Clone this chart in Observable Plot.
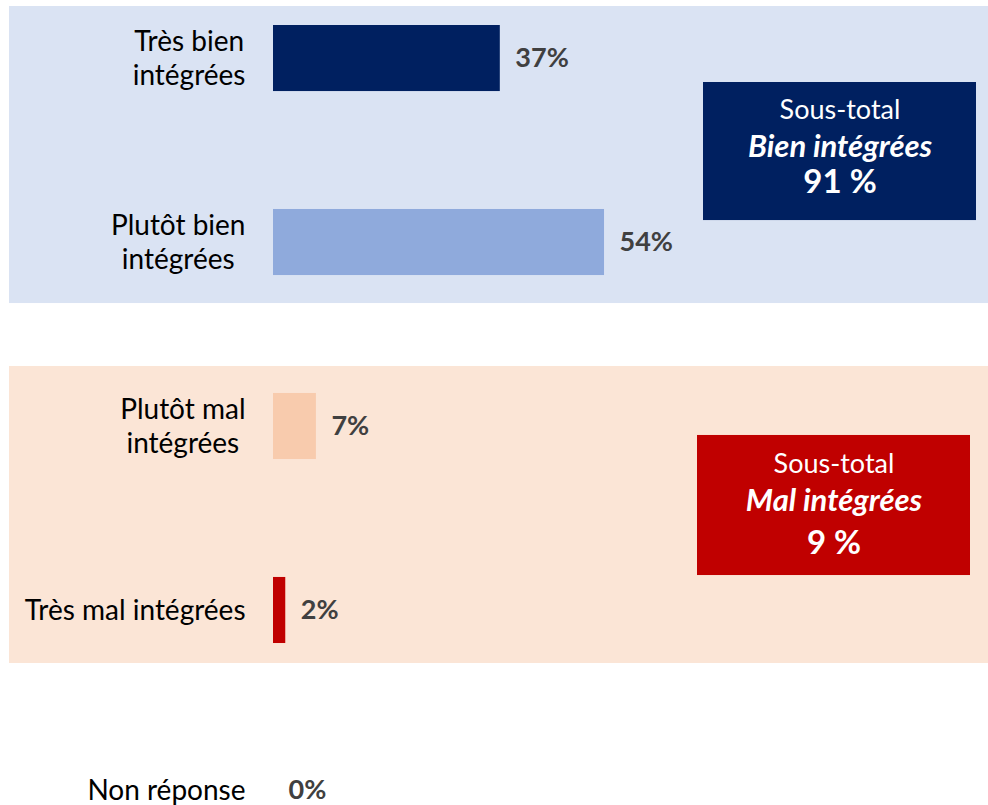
<!DOCTYPE html>
<html>
<head>
<meta charset="utf-8">
<script src="https://cdn.jsdelivr.net/npm/d3@7"></script>
<script src="https://cdn.jsdelivr.net/npm/@observablehq/plot@0.6"></script>
<style>
  html, body { margin: 0; padding: 0; background: #ffffff; }
  #chart svg { display: block; }
</style>
</head>
<body>
<div id="chart"></div>
<script>
// ---- Data ----
const categories = ["Très bien intégrées", "Plutôt bien intégrées", "Plutôt mal intégrées", "Très mal intégrées", "Non réponse"];
const categoryLabels = ["Très bien\nintégrées", "Plutôt bien\nintégrées", "Plutôt mal\nintégrées", "Très mal intégrées", "Non réponse"];
const values = [37, 54, 7, 2, 0];
const barColors = ["#002060", "#8FAADC", "#F8CBAD", "#C00000", "#C00000"];

const groupNames = ["Bien intégrées", "Mal intégrées"];
const groupMembers = [["Très bien intégrées", "Plutôt bien intégrées"], ["Plutôt mal intégrées", "Très mal intégrées"]];
const groupSubtotals = [91, 9];
const groupBoxColors = ["#002060", "#C00000"];
const groupBgColors = ["#DAE3F3", "#FBE5D6"];
const subtotalTitle = "Sous-total";

// ---- Build table ----
const rows = categories.map((c, i) => ({cat: c, value: values[i], color: barColors[i], label: categoryLabels[i]}));

const FONT = "Lato, 'Open Sans', 'DejaVu Sans', sans-serif";
const ctx = document.createElement("canvas").getContext("2d");
function maxLineWidth(str, size, weight = "normal") {
  ctx.font = `${weight} ${size}px Lato`;
  return Math.max(...str.split("\n").map(s => ctx.measureText(s).width));
}

// layout params (pixels)
const LABEL_SIZE = 28;
const labelGap = 28;
const bgPads = [[19, 28], [27, 20]];   // top / bottom padding of group background
const halfGap = 59;
const boxInsets = [
  {l: -183, r: -90, t: 57, b: -129, dx: -46.5, dys: [52, 88.5, 124]},
  {l: -189, r: -84, t: 42, b: -116, dx: -52.5, dys: [38, 75, 117]}
];

const marks = [];

// group backgrounds
groupMembers.forEach((mem, g) => {
  marks.push(Plot.barX([mem[0]], {
    y: d => d, x1: () => 0, x2: () => 100, fill: groupBgColors[g],
    insetLeft: -264, insetRight: -102, insetTop: -bgPads[g][0], insetBottom: -(halfGap + 1)
  }));
  marks.push(Plot.barX([mem[1]], {
    y: d => d, x1: () => 0, x2: () => 100, fill: groupBgColors[g],
    insetLeft: -264, insetRight: -102, insetTop: -halfGap, insetBottom: -bgPads[g][1]
  }));
});

// bars
marks.push(Plot.barX(rows, {x: "value", y: "cat", fill: "color"}));

// value labels and category labels (block right-aligned, lines centered)
rows.forEach((r, i) => {
  const edgeShift = i === rows.length - 1 ? -4 : 0; // keep the last row inside the picture
  marks.push(Plot.text([r], {
    x: "value", y: "cat", text: d => `${d.value}%`, dx: 15, dy: edgeShift, textAnchor: "start",
    fontFamily: FONT, fontWeight: "bold", fontSize: 27, fill: "#404040"
  }));
  const w = maxLineWidth(r.label, LABEL_SIZE);
  marks.push(Plot.text([r], {
    x: () => 0, y: "cat", text: "label", textAnchor: "middle",
    dx: -(labelGap + w / 2), dy: -1.5 + edgeShift, lineHeight: 1.214,
    fontFamily: FONT, fontSize: LABEL_SIZE, fill: "#000000"
  }));
});

// subtotal boxes
groupMembers.forEach((mem, g) => {
  const b = boxInsets[g];
  marks.push(Plot.barX([mem[0]], {
    y: d => d, x1: () => 100, x2: () => 100, fill: groupBoxColors[g],
    insetLeft: b.l, insetRight: b.r, insetTop: b.t, insetBottom: b.b
  }));
  marks.push(Plot.text([mem[0]], {
    y: d => d, x: () => 100, text: () => subtotalTitle, dx: b.dx, dy: b.dys[0],
    fontFamily: FONT, fontSize: 27, fill: "#ffffff", textAnchor: "middle"
  }));
  marks.push(Plot.text([mem[0]], {
    y: d => d, x: () => 100, text: () => groupNames[g], dx: b.dx, dy: b.dys[1],
    fontFamily: FONT, fontSize: 31, fontWeight: "bold", fontStyle: "italic", fill: "#ffffff", textAnchor: "middle"
  }));
  marks.push(Plot.text([mem[0]], {
    y: d => d, x: () => 100, text: () => `${groupSubtotals[g]} %`, dx: b.dx, dy: b.dys[2],
    fontFamily: FONT, fontSize: 33, fontWeight: "bold", fill: "#ffffff", textAnchor: "middle"
  }));
});

const chart = Plot.plot({
  width: 988,
  height: 805,
  margin: 0,
  style: {background: "#ffffff", fontFamily: FONT},
  x: {domain: [0, 100], range: [273, 886], axis: null},
  y: {domain: categories, range: [25, 827], paddingInner: 0.641, paddingOuter: 0, align: 0, round: false, axis: null},
  color: {type: "identity"},
  marks
});
document.getElementById("chart").appendChild(chart);
</script>
</body>
</html>
